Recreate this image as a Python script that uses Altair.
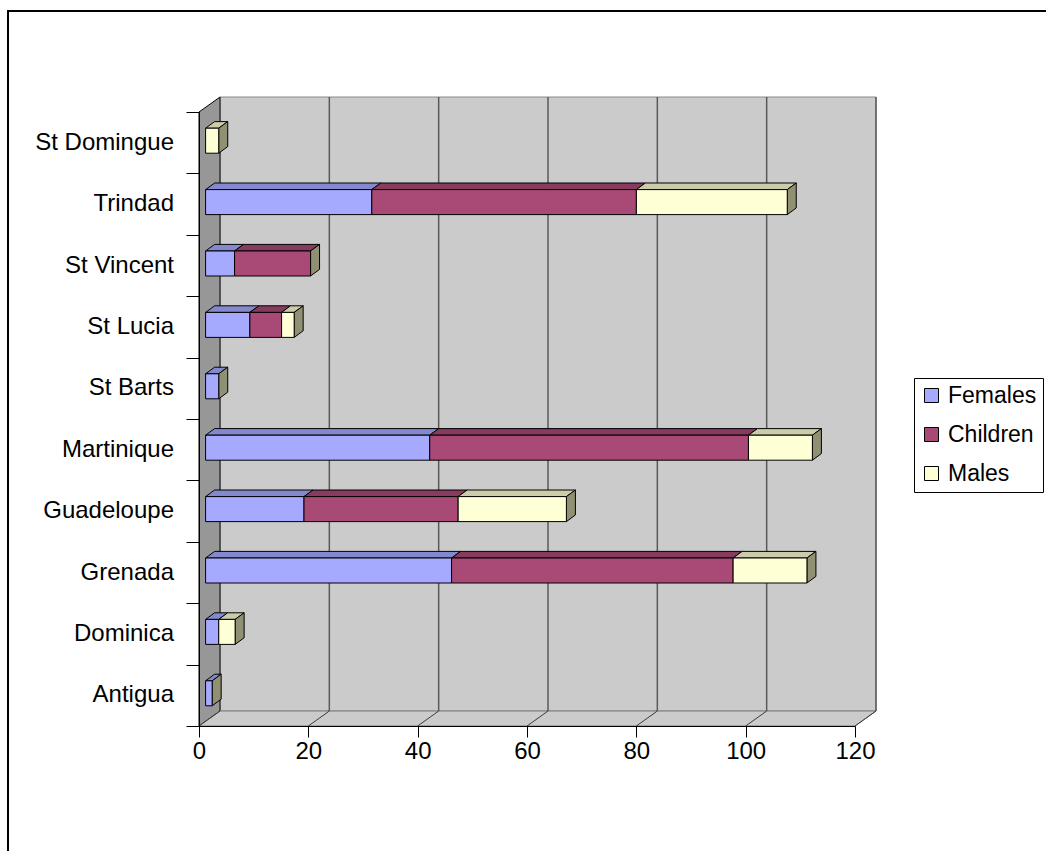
import altair as alt
import pandas as pd

# Island categories, bottom to top, and the three stacked series
islands = ["Antigua", "Dominica", "Grenada", "Guadeloupe", "Martinique",
           "St Barts", "St Lucia", "St Vincent", "Trindad", "St Domingue"]
females = [1.2, 2.4, 45.0, 18.0, 41.0, 2.4, 8.1, 5.3, 30.4, 0.0]
children = [0.0, 0.0, 51.5, 28.2, 58.3, 0.0, 5.8, 13.9, 48.4, 0.0]
males = [0.0, 3.0, 13.5, 19.8, 11.7, 0.0, 2.3, 0.0, 27.6, 2.4]

series_names = ["Females", "Children", "Males"]
front_colors = ["#A6AAFF", "#A94A76", "#FFFFD6"]
top_colors = ["#8488CC", "#873B5E", "#CCCCAA"]
side_color = "#909072"

x_ticks = [0, 20, 40, 60, 80, 100, 120]

FONT = "Liberation Sans"
W, H = 656, 614
X_MAX, N_CAT = 120, len(islands)
PX_X = W / X_MAX          # pixels per x unit
PX_Y = H / N_CAT          # pixels per category

# 3-D projection offsets (wall depth, bar placement and bar depth) in data units
DX, DY = 21 / PX_X, 15 / PX_Y
OX, OY = 6.6 / PX_X, 2 / PX_Y
BDX, BDY = 9 / PX_X, 6.6 / PX_Y
HALF = 12.5 / PX_Y

xs = alt.Scale(domain=[0, X_MAX], nice=False, zero=False)
ys = alt.Scale(domain=[0, N_CAT], nice=False, zero=False)
x_axis = alt.Axis(values=x_ticks, title=None, grid=False, tickSize=11,
                  tickColor="black", domainColor="black", labelFont=FONT,
                  labelFontSize=24, labelColor="black", labelPadding=2,
                  labelFlush=False, labelOverlap=False, zindex=2)
y_axis = alt.Axis(values=list(range(N_CAT + 1)), title=None, grid=False,
                  labels=False, tickSize=13, tickColor="black",
                  domainColor="black", zindex=2)

# ---- bars: front faces, top faces and end caps ----
fronts, polys = [], []
pid = 0


def add_poly(points, fill, stroke):
    global pid
    for k, (px, py) in enumerate(points + [points[0]]):
        polys.append({"pid": pid, "ord": k, "x": px, "y": py,
                      "fill": fill, "stroke": stroke})
    pid += 1


for i, name in enumerate(islands):
    vals = [females[i], children[i], males[i]]
    yc = i + 0.5 + OY
    yb, yt = yc - HALF, yc + HALF
    start = 0.0
    last = None
    for s, v in enumerate(vals):
        if v <= 0:
            continue
        x0, x1 = start + OX, start + v + OX
        fronts.append({"island": name, "series": series_names[s],
                       "x0": x0, "x1": x1, "yb": yb, "yt": yt})
        add_poly([(x0, yt), (x1, yt), (x1 + BDX, yt + BDY), (x0 + BDX, yt + BDY)],
                 top_colors[s], "black")
        start += v
        last = x1
    if last is not None:
        add_poly([(last, yt), (last + BDX, yt + BDY), (last + BDX, yb + BDY), (last, yb)],
                 side_color, "black")

front_df = pd.DataFrame(fronts)
poly_df = pd.DataFrame(polys)

# ---- walls and floor ----
walls = []
wid = 0


def add_wall(points, fill, stroke):
    global wid
    for k, (px, py) in enumerate(points + [points[0]]):
        walls.append({"pid": wid, "ord": k, "x": px, "y": py,
                      "fill": fill, "stroke": stroke})
    wid += 1


add_wall([(DX, DY), (X_MAX + DX, DY), (X_MAX + DX, N_CAT + DY), (DX, N_CAT + DY)],
         "#CBCBCB", "#8A8A8A")
add_wall([(0, 0), (DX, DY), (DX, N_CAT + DY), (0, N_CAT)], "#979797", "black")
add_wall([(0, 0), (X_MAX, 0), (X_MAX + DX, DY), (DX, DY)], "#CBCBCB", "#7A7A7A")
wall_df = pd.DataFrame(walls)

grid_df = pd.DataFrame({"x": [v + DX for v in x_ticks[1:]],
                        "y": [DY] * (len(x_ticks) - 1),
                        "y2": [N_CAT + DY] * (len(x_ticks) - 1)})
floor_df = pd.DataFrame({"x": x_ticks, "y": [0] * len(x_ticks),
                         "x2": [v + DX for v in x_ticks], "y2": [DY] * len(x_ticks)})
label_df = pd.DataFrame({"island": islands, "yc": [i + 0.5 for i in range(N_CAT)]})


def poly_layer(df):
    return alt.Chart(df).mark_line(strokeWidth=1, strokeJoin="miter").encode(
        x=alt.X("x:Q", scale=xs, axis=x_axis),
        y=alt.Y("y:Q", scale=ys, axis=y_axis),
        detail="pid:N",
        order="ord:Q",
        fill=alt.Fill("fill:N", scale=None),
        stroke=alt.Stroke("stroke:N", scale=None),
    )


border = alt.Chart(label_df).mark_rect(fill="transparent", stroke="black",
                                       strokeWidth=1.5).encode(
    x=alt.value(-191), x2=alt.value(W + 200), y=alt.value(-101), y2=alt.value(H + 140)
)

wall_layer = poly_layer(wall_df)

grid_layer = alt.Chart(grid_df).mark_rule(color="#5A5A5A", strokeWidth=1.5).encode(
    x=alt.X("x:Q", scale=xs, axis=x_axis),
    y=alt.Y("y:Q", scale=ys, axis=y_axis),
    y2="y2:Q",
)

floor_layer = alt.Chart(floor_df).mark_rule(color="#3A3A3A", strokeWidth=1).encode(
    x=alt.X("x:Q", scale=xs, axis=x_axis),
    y=alt.Y("y:Q", scale=ys, axis=y_axis),
    x2="x2:Q", y2="y2:Q",
)

bar_sides = poly_layer(poly_df)

bar_fronts = alt.Chart(front_df).mark_rect(stroke="black", strokeWidth=1).encode(
    x=alt.X("x0:Q", scale=xs, axis=x_axis),
    x2="x1:Q",
    y=alt.Y("yb:Q", scale=ys, axis=y_axis),
    y2="yt:Q",
    color=alt.Color("series:N",
                    scale=alt.Scale(domain=series_names, range=front_colors),
                    legend=alt.Legend(title=None, orient="none", legendX=715,
                                      legendY=266, symbolType="square",
                                      symbolSize=196, symbolStrokeColor="black",
                                      symbolStrokeWidth=1, labelFont=FONT,
                                      labelFontSize=23, labelColor="black",
                                      labelOffset=5, rowPadding=15, padding=6,
                                      strokeColor="black", fillColor="white")),
)

labels = alt.Chart(label_df).mark_text(align="right", baseline="middle", font=FONT,
                                       fontSize=24, color="black").encode(
    x=alt.value(-25),
    y=alt.Y("yc:Q", scale=ys, axis=y_axis),
    text="island:N",
)

chart = alt.layer(border, wall_layer, grid_layer, floor_layer, bar_sides,
                  bar_fronts, labels).properties(
    width=W, height=H,
    padding={"left": 199, "top": 112, "right": 191, "bottom": 125},
    autosize=alt.AutoSizeParams(type="none"),
    background="white",
).configure_view(stroke=None)

chart.save("out.html", embed_options={"renderer": "svg", "actions": False})
